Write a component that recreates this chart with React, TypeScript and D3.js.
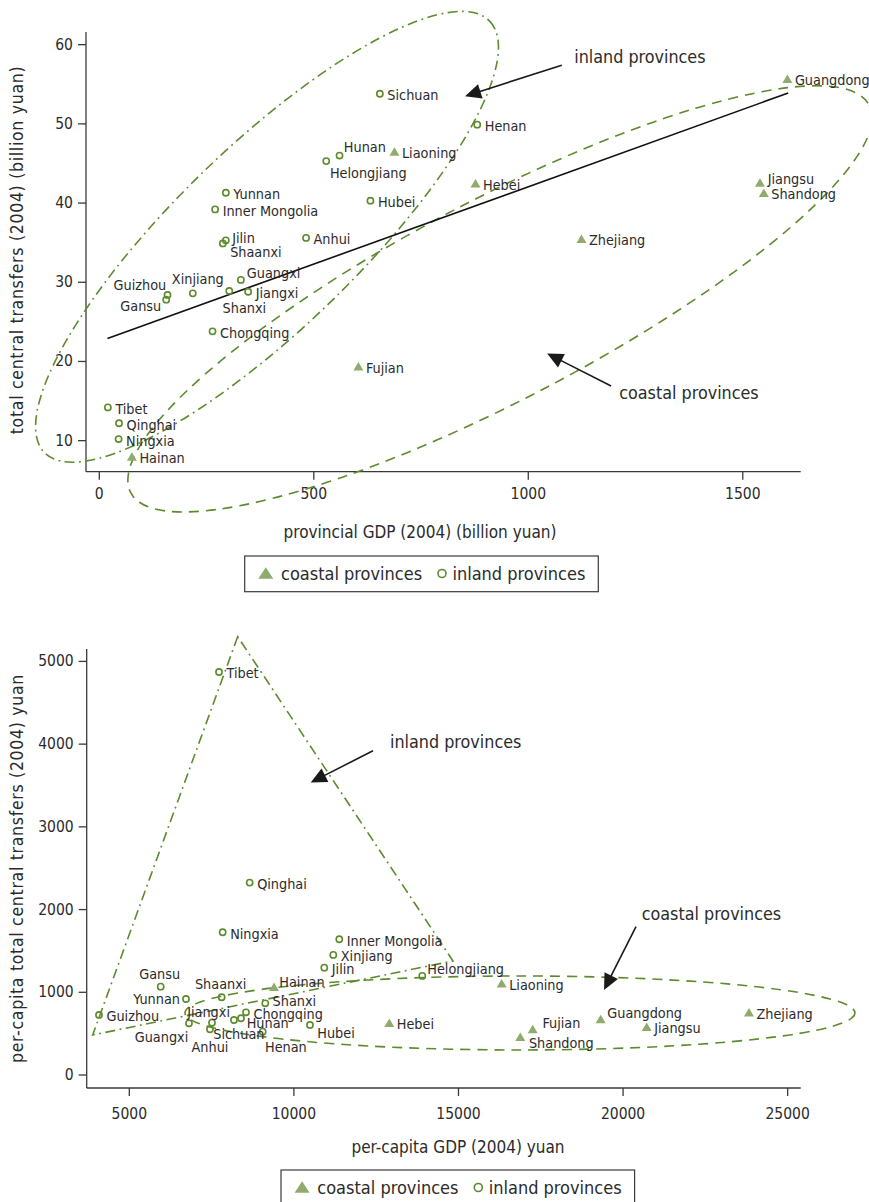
import React from 'react';
import * as d3 from 'd3';

// ---------- data: chart 1 (totals) ----------
const coastalNames = ['Guangdong', 'Jiangsu', 'Shandong', 'Zhejiang', 'Hebei', 'Liaoning', 'Fujian', 'Hainan'];
const coastalGDP = [1604, 1540, 1549, 1124, 877, 688, 604, 76];
const coastalTransfers = [55.7, 42.6, 41.3, 35.5, 42.5, 46.5, 19.4, 8.0];

const inlandNames = ['Henan', 'Sichuan', 'Hunan', 'Helongjiang', 'Hubei', 'Yunnan', 'Inner Mongolia', 'Jilin', 'Shaanxi', 'Anhui',
  'Guangxi', 'Jiangxi', 'Shanxi', 'Xinjiang', 'Guizhou', 'Gansu', 'Chongqing', 'Tibet', 'Qinghai', 'Ningxia'];
const inlandGDP = [881, 654, 560, 529, 632, 295, 270, 295, 288, 482, 330, 347, 303, 218, 159, 156, 264, 20, 46, 45];
const inlandTransfers = [49.9, 53.8, 46.0, 45.3, 40.3, 41.3, 39.2, 35.3, 34.9, 35.6, 30.3, 28.8, 28.9, 28.6, 28.4, 27.8, 23.8, 14.2, 12.2, 10.2];

const fitGDP = [19, 1606];
const fitTransfers = [22.9, 53.9];

const xTicks1 = [0, 500, 1000, 1500];
const yTicks1 = [10, 20, 30, 40, 50, 60];

// ---------- data: chart 2 (per capita) ----------
const coastalNames2 = ['Hainan', 'Hebei', 'Liaoning', 'Fujian', 'Shandong', 'Guangdong', 'Jiangsu', 'Zhejiang'];
const coastalPcGDP = [9396, 12898, 16312, 17254, 16877, 19319, 20717, 23825];
const coastalPcTransfers = [1068, 633, 1109, 556, 464, 677, 584, 758];

const inlandNames2 = ['Tibet', 'Qinghai', 'Ningxia', 'Inner Mongolia', 'Xinjiang', 'Jilin', 'Helongjiang', 'Gansu', 'Yunnan', 'Shaanxi',
  'Shanxi', 'Guizhou', 'Chongqing', 'Jiangxi', 'Hunan', 'Sichuan', 'Anhui', 'Guangxi', 'Henan', 'Hubei'];
const inlandPcGDP = [7725, 8657, 7837, 11379, 11197, 10924, 13900, 5954, 6722, 7806, 9131, 4080, 8545, 8180, 8393, 7512, 7451, 6813, 9052, 10489];
const inlandPcTransfers = [4872, 2326, 1726, 1641, 1452, 1298, 1198, 1068, 919, 940, 867, 726, 758, 665, 686, 633, 553, 625, 524, 605];

const xTicks2 = [5000, 10000, 15000, 20000, 25000];
const yTicks2 = [0, 1000, 2000, 3000, 4000, 5000];

// triangle enclosing inland provinces (chart 2), in data units
const inlandHullX = [8293, 3888, 14833];
const inlandHullY = [5299, 484, 1379];

// ---------- styles ----------
const FONT = "'DejaVu Sans Condensed', 'Liberation Sans Narrow', 'Liberation Sans', sans-serif";
const GREEN = '#5c8b2c';
const TRI = '#8fac6c';
const INK = '#2b2b2b';
const AXIS = '#3a3a3a';

// label offsets [dx, dy, anchor]
type Off = [number, number, string];
const DEF: Off = [7.5, 1.5, 'start'];
const labelOff1: Record<string, Off> = {
  Hunan: [4.3, -8.7, 'start'],
  Helongjiang: [3.7, 12, 'start'],
  Shaanxi: [7.3, 8.3, 'start'],
  Guangxi: [6, -7, 'start'],
  Shanxi: [-6.7, 16.7, 'start'],
  Xinjiang: [5, -14, 'middle'],
  Guizhou: [-1.3, -10, 'end'],
  Gansu: [-5, 6.7, 'end'],
  Jilin: [6.3, -2.3, 'start'],
  Jiangsu: [7.7, -3.7, 'start'],
};
const labelOff2: Record<string, Off> = {
  Gansu: [-1, -12.7, 'middle'],
  Yunnan: [-6, 0, 'end'],
  Shaanxi: [-1, -13, 'middle'],
  Shanxi: [7.3, -2.3, 'start'],
  Jiangxi: [-4, -8.3, 'end'],
  Hunan: [5.7, 4.3, 'start'],
  Sichuan: [1.3, 11.7, 'start'],
  Anhui: [0, 18, 'middle'],
  Guangxi: [-0.7, 13.3, 'end'],
  Henan: [2.3, 15, 'start'],
  Hubei: [7.3, 7.7, 'start'],
  Hainan: [5.3, -5, 'start'],
  Helongjiang: [5, -6.7, 'start'],
  Fujian: [9.7, -5.7, 'start'],
  Shandong: [8.7, 6, 'start'],
  Guangdong: [6.7, -6.3, 'start'],
};

const triPath = (cx: number, cy: number, w: number, h: number) =>
  `M${cx},${cy - h / 2}L${cx + w / 2},${cy + h / 2}L${cx - w / 2},${cy + h / 2}Z`;

function Arrow({ x1, y1, x2, y2 }: { x1: number; y1: number; x2: number; y2: number }) {
  const dx = x2 - x1, dy = y2 - y1;
  const len = Math.hypot(dx, dy);
  const ux = dx / len, uy = dy / len;
  const nx = -uy, ny = ux;
  const L = 16, Wd = 7.5;
  const bx = x2 - ux * L, by = y2 - uy * L;
  return (
    <g>
      <line x1={x1} y1={y1} x2={bx + ux * 2} y2={by + uy * 2} stroke="#1a1a1a" strokeWidth={1.6} />
      <path d={`M${x2},${y2}L${bx + nx * Wd},${by + ny * Wd}L${bx - nx * Wd},${by - ny * Wd}Z`} fill="#1a1a1a" />
    </g>
  );
}

function Labels({ names, xs, ys, sx, sy, offs }: any) {
  return (
    <g fontFamily={FONT} fontSize={14.3} fill={INK}>
      {names.map((n: string, i: number) => {
        const o: Off = offs[n] || DEF;
        return (
          <text key={n} x={sx(xs[i]) + o[0]} y={sy(ys[i]) + o[1]} textAnchor={o[2]} dominantBaseline="central">{n}</text>
        );
      })}
    </g>
  );
}

function Markers({ cx, cy, ix, iy, sx, sy }: any) {
  return (
    <g>
      {cx.map((v: number, i: number) => (
        <path key={'t' + i} d={triPath(sx(v), sy(cy[i]), 10, 8.5)} fill={TRI} />
      ))}
      {ix.map((v: number, i: number) => (
        <circle key={'c' + i} cx={sx(v)} cy={sy(iy[i])} r={3.1} fill="none" stroke={GREEN} strokeWidth={1.6} />
      ))}
    </g>
  );
}

function Legend({ x, y }: { x: number; y: number }) {
  return (
    <g fontFamily={FONT} fontSize={18} fill={INK}>
      <rect x={x} y={y} width={353.6} height={35.7} fill="#fff" stroke={AXIS} strokeWidth={1.2} />
      <path d={triPath(x + 21.1, y + 17, 15, 11.5)} fill={TRI} />
      <text x={x + 36.3} y={y + 17.5} dominantBaseline="central">coastal provinces</text>
      <circle cx={x + 197.3} cy={y + 17.5} r={4} fill="none" stroke={GREEN} strokeWidth={1.6} />
      <text x={x + 207.7} y={y + 17.5} dominantBaseline="central">inland provinces</text>
    </g>
  );
}

function Axes({ sx, sy, xt, yt, xl, xr, yb, ytop, xLabY }: any) {
  return (
    <g stroke={AXIS} strokeWidth={1.3}>
      <line x1={xl} y1={ytop} x2={xl} y2={yb} />
      <line x1={xl} y1={yb} x2={xr} y2={yb} />
      {yt.map((t: number) => (
        <g key={'y' + t}>
          <line x1={xl - 8} x2={xl} y1={sy(t)} y2={sy(t)} />
          <text x={xl - 13} y={sy(t)} textAnchor="end" dominantBaseline="central" stroke="none" fill={INK}
            fontFamily={FONT} fontSize={15.5}>{t}</text>
        </g>
      ))}
      {xt.map((t: number) => (
        <g key={'x' + t}>
          <line x1={sx(t)} x2={sx(t)} y1={yb} y2={yb + 8} />
          <text x={sx(t)} y={xLabY} textAnchor="middle" stroke="none" fill={INK}
            fontFamily={FONT} fontSize={15.5}>{t}</text>
        </g>
      ))}
    </g>
  );
}

export default function App() {
  const x1 = d3.scaleLinear().domain([-31, 1635]).range([86, 800.7]);
  const y1 = d3.scaleLinear().domain([6.08, 61.6]).range([471.7, 32]);
  const x2 = d3.scaleLinear().domain([3706, 25396]).range([86.7, 800.7]);
  const y2 = d3.scaleLinear().domain([-157, 5150]).range([1088, 649]);

  const fitLine = d3.line<number>().x((d) => x1(d)).y((_, i) => y1(fitTransfers[i]));
  const hull = d3.line<number>().x((d) => x2(d)).y((_, i) => y2(inlandHullY[i]));

  const e1 = { x: x1(391), y: y1(35.74) };
  const e2 = { x: x1(934), y: y1(27.9) };
  const e3 = { x: x2(16868), y: y2(750) };

  const dashDot = '10 4.5 1.8 4.5';
  const dash = '10 7';

  const xTitle = { fontFamily: FONT, fontSize: 17, fill: INK } as any;
  const yTitle = { fontFamily: FONT, fontSize: 17.5, fill: INK, letterSpacing: 0.7 } as any;
  const annStyle = { fontFamily: FONT, fontSize: 17.8, fill: INK } as any;

  return (
    <svg width={869} height={1202} style={{ position: 'absolute', left: 0, top: 0, background: '#fff' }}>
      <rect width={869} height={1202} fill="#fff" />

      {/* ================= chart 1 ================= */}
      <Axes sx={x1} sy={y1} xt={xTicks1} yt={yTicks1} xl={86} xr={800.7} yb={471.7} ytop={32} xLabY={499} />
      <text x={420} y={538} textAnchor="middle" {...xTitle}>provincial GDP (2004) (billion yuan)</text>
      <text transform={`translate(23.2,250) rotate(-90)`} textAnchor="middle" {...yTitle}>total central transfers (2004) (billion yuan)</text>

      <ellipse cx={e1.x} cy={e1.y} rx={310} ry={91} transform={`rotate(-44.1 ${e1.x} ${e1.y})`}
        fill="none" stroke={GREEN} strokeWidth={1.6} strokeDasharray={dashDot} />
      <ellipse cx={e2.x} cy={e2.y} rx={417} ry={100} transform={`rotate(-27.7 ${e2.x} ${e2.y})`}
        fill="none" stroke={GREEN} strokeWidth={1.6} strokeDasharray={dash} />

      <path d={fitLine(fitGDP) || ''} stroke="#111" strokeWidth={1.6} fill="none" />

      <Markers cx={coastalGDP} cy={coastalTransfers} ix={inlandGDP} iy={inlandTransfers} sx={x1} sy={y1} />
      <Labels names={coastalNames} xs={coastalGDP} ys={coastalTransfers} sx={x1} sy={y1} offs={labelOff1} />
      <Labels names={inlandNames} xs={inlandGDP} ys={inlandTransfers} sx={x1} sy={y1} offs={labelOff1} />

      <Arrow x1={x1(1078)} y1={y1(57.4)} x2={x1(852.6)} y2={y1(53.5)} />
      <text x={x1(1107)} y={y1(57.7)} {...annStyle}>inland provinces</text>
      <Arrow x1={x1(1193)} y1={y1(16.9)} x2={x1(1044)} y2={y1(21.0)} />
      <text x={x1(1212)} y={y1(15.3)} {...annStyle}>coastal provinces</text>

      <Legend x={244.7} y={556} />

      {/* ================= chart 2 ================= */}
      <Axes sx={x2} sy={y2} xt={xTicks2} yt={yTicks2} xl={86.7} xr={800.7} yb={1088} ytop={649} xLabY={1119} />
      <text x={458} y={1153} textAnchor="middle" {...xTitle}>per-capita GDP (2004) yuan</text>
      <text transform={`translate(23.2,868.5) rotate(-90)`} textAnchor="middle" {...yTitle}>per-capita total central transfers (2004) yuan</text>

      <path d={(hull(inlandHullX) || '') + 'Z'} fill="none" stroke={GREEN} strokeWidth={1.6} strokeDasharray={dashDot} />
      <ellipse cx={e3.x} cy={e3.y} rx={335} ry={37} fill="none" stroke={GREEN} strokeWidth={1.6} strokeDasharray={dash} />

      <Markers cx={coastalPcGDP} cy={coastalPcTransfers} ix={inlandPcGDP} iy={inlandPcTransfers} sx={x2} sy={y2} />
      <Labels names={coastalNames2} xs={coastalPcGDP} ys={coastalPcTransfers} sx={x2} sy={y2} offs={labelOff2} />
      <Labels names={inlandNames2} xs={inlandPcGDP} ys={inlandPcTransfers} sx={x2} sy={y2} offs={labelOff2} />

      <Arrow x1={x2(12403)} y1={y2(3920)} x2={x2(10511)} y2={y2(3536)} />
      <text x={x2(12920)} y={y2(3956)} {...annStyle}>inland provinces</text>
      <Arrow x1={x2(20393)} y1={y2(1794)} x2={x2(19421)} y2={y2(1028)} />
      <text x={x2(20566)} y={y2(1868)} {...annStyle}>coastal provinces</text>

      <Legend x={281} y={1170} />
    </svg>
  );
}
